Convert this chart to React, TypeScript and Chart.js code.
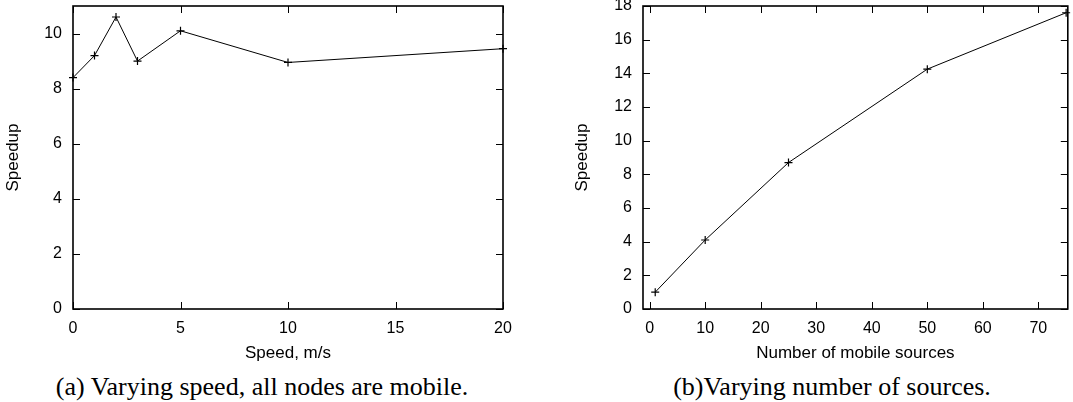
import React, { useEffect, useRef } from "react";
import { Chart, registerables } from "chart.js";

Chart.register(...registerables);

// ---- data ----
const speedValues = [0, 1, 2, 3, 5, 10, 20];
const speedupBySpeed = [8.4, 9.2, 10.6, 9.0, 10.1, 8.95, 9.45];

const sourceCounts = [1, 10, 25, 50, 75];
const speedupBySources = [1.0, 4.1, 8.7, 14.25, 17.6];

const captionA = "(a) Varying speed, all nodes are mobile.";
const captionB = "(b)Varying number of sources.";

const SANS = "'Liberation Sans', Arial, Helvetica, sans-serif";
const SERIF = "'Liberation Serif', 'Times New Roman', serif";

const gnuplotFrame = {
  id: "gnuplotFrame",
  beforeDatasetsDraw(chart: any) {
    const { ctx, chartArea, scales } = chart;
    const { left, right, top, bottom } = chartArea;
    const tl = 7;
    ctx.save();
    ctx.strokeStyle = "#000";
    ctx.lineWidth = 1;
    ctx.beginPath();
    scales.x.ticks.forEach((t: any) => {
      const p = Math.round(scales.x.getPixelForValue(t.value)) + 0.5;
      ctx.moveTo(p, bottom);
      ctx.lineTo(p, bottom - tl);
      ctx.moveTo(p, top);
      ctx.lineTo(p, top + tl);
    });
    scales.y.ticks.forEach((t: any) => {
      const p = Math.round(scales.y.getPixelForValue(t.value)) + 0.5;
      ctx.moveTo(left, p);
      ctx.lineTo(left + tl, p);
      ctx.moveTo(right, p);
      ctx.lineTo(right - tl, p);
    });
    ctx.stroke();
    ctx.lineWidth = 1.6;
    ctx.strokeRect(left, top, right - left, bottom - top);
    ctx.restore();
  },
};

type PanelProps = {
  xs: number[];
  ys: number[];
  xTitle: string;
  xMin: number;
  xMax: number;
  xStep: number;
  yMax: number;
  left: number;
  width: number;
  yAxisWidth: number;
  padRight: number;
  yTitlePad: number;
};

const CANVAS_H = 372;
const PLOT_TOP = 6;
const PLOT_BOTTOM = 309;

function Panel(p: PanelProps) {
  const ref = useRef<HTMLCanvasElement | null>(null);
  useEffect(() => {
    if (!ref.current) return;
    const tickFont = { family: SANS, size: 16 };
    const titleFont = { family: SANS, size: 17 };
    const chart = new Chart(ref.current, {
      type: "line",
      data: {
        datasets: [
          {
            data: p.xs.map((x, i) => ({ x, y: p.ys[i] })),
            borderColor: "#000",
            backgroundColor: "#000",
            borderWidth: 1,
            pointStyle: "cross",
            pointRadius: 4,
            pointBorderWidth: 1.2,
            pointBorderColor: "#000",
            fill: false,
            tension: 0,
            clip: false as any,
          },
        ],
      },
      options: {
        responsive: false,
        animation: false,
        layout: { padding: { top: PLOT_TOP, right: p.padRight, left: 0, bottom: 0 } },
        plugins: { legend: { display: false }, tooltip: { enabled: false } },
        scales: {
          x: {
            type: "linear",
            min: p.xMin,
            max: p.xMax,
            ticks: {
              stepSize: p.xStep,
              includeBounds: false,
              padding: 10,
              font: tickFont,
              color: "#000",
              maxRotation: 0,
              autoSkip: false,
            },
            grid: { display: false, drawTicks: false },
            border: { display: false },
            title: {
              display: true,
              text: p.xTitle,
              font: titleFont,
              color: "#000",
              padding: { top: 0, bottom: 8 },
            },
            afterFit: (s: any) => {
              s.height = CANVAS_H - PLOT_BOTTOM;
              s.paddingLeft = 0;
              s.paddingRight = 0;
            },
          },
          y: {
            type: "linear",
            min: 0,
            max: p.yMax,
            ticks: {
              stepSize: 2,
              includeBounds: false,
              padding: 11,
              font: tickFont,
              color: "#000",
              autoSkip: false,
            },
            grid: { display: false, drawTicks: false },
            border: { display: false },
            title: {
              display: true,
              text: "Speedup",
              font: titleFont,
              color: "#000",
              padding: { top: p.yTitlePad, bottom: 0 },
            },
            afterFit: (s: any) => {
              s.width = p.yAxisWidth;
              s.paddingTop = 0;
              s.paddingBottom = 0;
            },
          },
        },
      } as any,
      plugins: [gnuplotFrame],
    });
    return () => chart.destroy();
  }, []);
  return (
    <canvas
      ref={ref}
      width={p.width}
      height={CANVAS_H}
      style={{ position: "absolute", left: p.left, top: 0, width: p.width, height: CANVAS_H }}
    />
  );
}

function Caption({ text, center }: { text: string; center: number }) {
  return (
    <div
      style={{
        position: "absolute",
        left: center - 300,
        width: 600,
        top: 372,
        height: 30,
        lineHeight: "30px",
        textAlign: "center",
        fontFamily: SERIF,
        fontSize: 26,
        color: "#000",
        whiteSpace: "nowrap",
      }}
    >
      {text}
    </div>
  );
}

export default function App() {
  return (
    <div
      style={{
        position: "absolute",
        left: 0,
        top: 0,
        width: 1073,
        height: 402,
        background: "#fff",
        overflow: "hidden",
      }}
    >
      <Panel
        xs={speedValues}
        ys={speedupBySpeed}
        xTitle="Speed, m/s"
        xMin={0}
        xMax={20}
        xStep={5}
        yMax={11}
        left={0}
        width={540}
        yAxisWidth={73}
        padRight={37}
        yTitlePad={3}
      />
      <Panel
        xs={sourceCounts}
        ys={speedupBySources}
        xTitle="Number of mobile sources"
        xMin={-1.2}
        xMax={75.3}
        xStep={10}
        yMax={18}
        left={560}
        width={513}
        yAxisWidth={83}
        padRight={5}
        yTitlePad={12}
      />
      <Caption text={captionA} center={262} />
      <Caption text={captionB} center={832} />
    </div>
  );
}
